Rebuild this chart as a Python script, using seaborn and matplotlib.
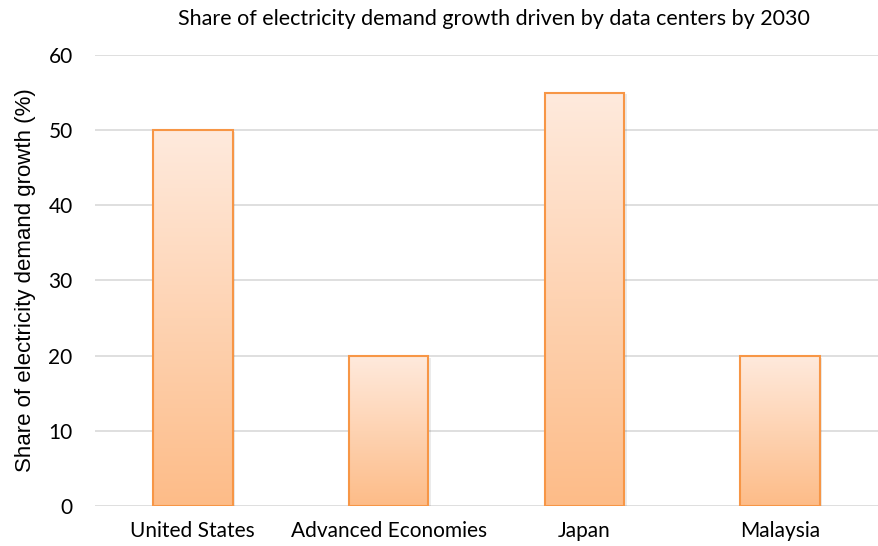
import numpy as np
import pandas as pd
import matplotlib
matplotlib.use('Agg')
import matplotlib.pyplot as plt
import seaborn as sns
from matplotlib.colors import LinearSegmentedColormap

categories = ['United States', 'Advanced Economies', 'Japan', 'Malaysia']
values = [50, 20, 55, 20]
yticks = [0, 10, 20, 30, 40, 50, 60]

sns.set_theme(style='white')
plt.rcParams['font.family'] = ['Lato', 'DejaVu Sans']

fig = plt.figure(figsize=(8.79, 5.46), dpi=100)
ax = fig.add_axes([0.108, 0.0733, 0.891, 0.826])
df = pd.DataFrame({'region': categories, 'share': values})
sns.barplot(data=df, x='region', y='share', ax=ax, width=0.406, color='white',
            edgecolor='#F79646', linewidth=1.5, zorder=3)

cmap = LinearSegmentedColormap.from_list('g', ['#FDBC88', '#FFEADD'])
grad = np.linspace(0, 1, 256).reshape(-1, 1)
for p in ax.patches:
    x0, y0 = p.get_x(), p.get_y()
    w, h = p.get_width(), p.get_height()
    p.set_facecolor('none')
    im = ax.imshow(grad, cmap=cmap, origin='lower', extent=[x0, x0 + w, y0, y0 + h],
                   aspect='auto', zorder=2.5, interpolation='bilinear')
    im.set_clip_path(p)
    sh = plt.Rectangle((x0 + 0.012, y0), w, h - 0.25, facecolor='#000000', alpha=0.08,
                       edgecolor='none', zorder=2.4)
    ax.add_patch(sh)

ax.set_xlim(-0.5, 3.5)
ax.set_ylim(0, 60)
ax.set_yticks(yticks)
ax.yaxis.grid(True, color='#D9D9D9', linewidth=1.2, zorder=0)
ax.set_axisbelow(True)
for s in ax.spines.values():
    s.set_visible(False)
ax.tick_params(axis='y', length=0, pad=16, labelsize=15, labelcolor='black')
ax.tick_params(axis='x', length=0, pad=11, labelsize=15, labelcolor='black')
ax.set_xlabel('')
ax.set_ylabel('Share of electricity demand growth (%)', fontsize=16,
              family=['Liberation Sans', 'DejaVu Sans'], color='black')
ax.yaxis.set_label_coords(-0.075, 0.5)
fig.text(0.562, 0.965, 'Share of electricity demand growth driven by data centers by 2030',
         ha='center', va='center', fontsize=15.5, color='black')

fig.savefig('out.png', dpi=100)
